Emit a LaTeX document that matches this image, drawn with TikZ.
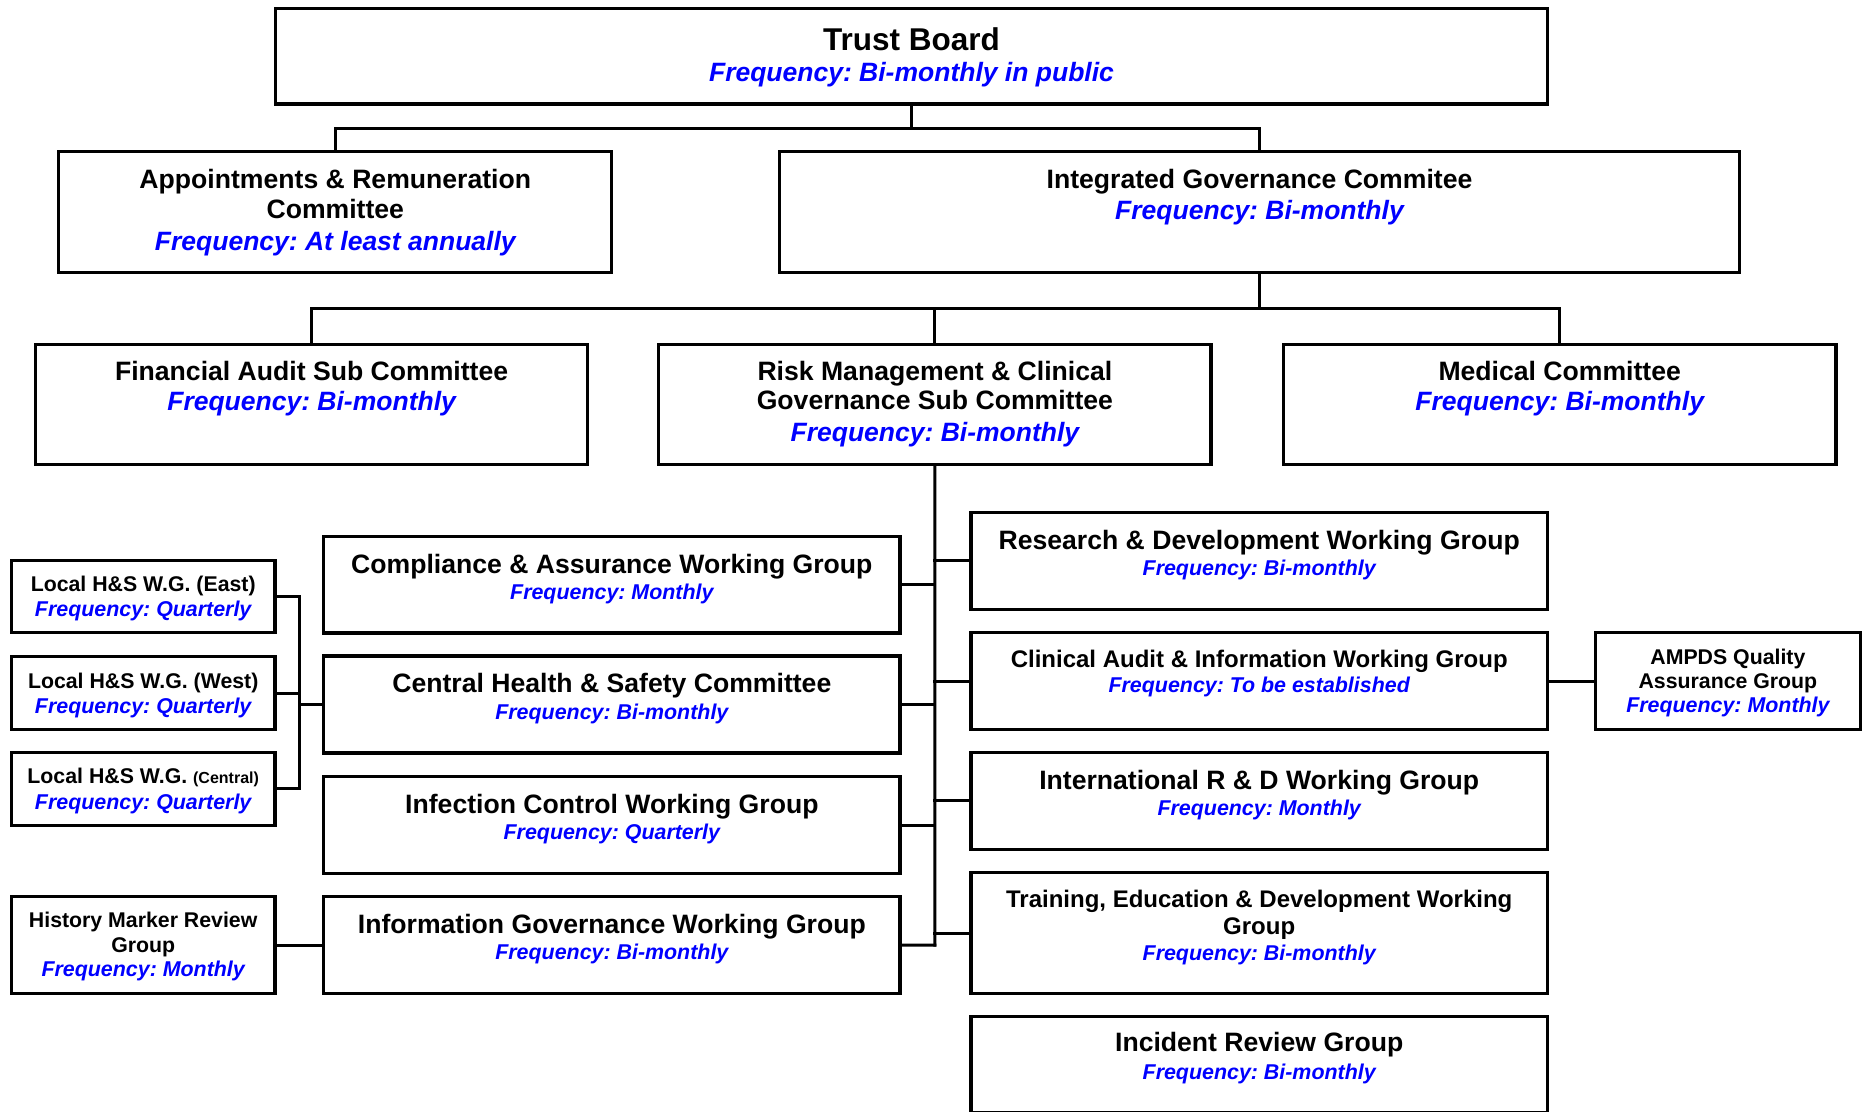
\documentclass[tikz,border=0pt]{standalone}
\usepackage{fontspec}
\setmainfont{Liberation Sans}
\usetikzlibrary{calc}
\frenchspacing
\definecolor{freqblue}{RGB}{0,0,255}
\tikzset{
  orgbox/.style={draw=black, line width=3.3pt, inner sep=0pt, fill=white},
  conn/.style={draw=black, line width=3pt, line cap=rect},
  tT/.style={anchor=base, inner sep=0pt, font=\fontsize{31.5}{34}\selectfont\bfseries},
  tA/.style={anchor=base, inner sep=0pt, font=\fontsize{26.6}{30}\selectfont\bfseries},
  tC/.style={anchor=base, inner sep=0pt, font=\fontsize{24}{27}\selectfont\bfseries},
  tS/.style={anchor=base, inner sep=0pt, font=\fontsize{21.3}{24}\selectfont\bfseries},
  fA/.style={anchor=base, inner sep=0pt, text=freqblue, font=\fontsize{26.5}{30}\selectfont\bfseries\itshape},
  fB/.style={anchor=base, inner sep=0pt, text=freqblue, font=\fontsize{21.4}{24}\selectfont\bfseries\itshape},
}
\newcommand\orgrect[5]{\node[orgbox, minimum width={#4-#2}, minimum height={#5-#3}] (#1) at ({(#2+#4)/2},{(#3+#5)/2}) {};}
\begin{document}
\begin{tikzpicture}[x=1pt,y=-1pt]
\useasboundingbox (0,0) rectangle (1863,1111);
\fill[white] (0,0) rectangle (1863,1111);

% ---------- boxes ----------
\orgrect{tb}{275.5}{8.7}{1547.5}{104}
\orgrect{ar}{58.8}{151.3}{611.8}{272.8}
\orgrect{ig}{779.4}{151.3}{1739.6}{272.8}
\orgrect{fa}{35.7}{344.5}{587.4}{464.7}
\orgrect{rm}{658.7}{344.5}{1211}{464.7}
\orgrect{mc}{1283.5}{344.5}{1835.9}{464.7}

\orgrect{cp}{323.7}{536.5}{900}{633}
\orgrect{ch}{323.7}{656}{900}{753}
\orgrect{ic}{323.7}{776.8}{900}{873.4}
\orgrect{gw}{323.7}{896.7}{900}{993.5}

\orgrect{rd}{971}{512.3}{1547.3}{609.4}
\orgrect{ca}{971}{632.7}{1547.3}{729.3}
\orgrect{ir}{971}{752.2}{1547.3}{849.2}
\orgrect{tr}{971}{872.5}{1547.3}{993.5}
\orgrect{inc}{971}{1016.5}{1547.3}{1113}

\orgrect{le}{11.3}{560.7}{275}{632.4}
\orgrect{lw}{11.3}{656.5}{275}{729.7}
\orgrect{lc}{11.3}{752.2}{275}{825.5}
\orgrect{hm}{11.3}{896.7}{275}{993.5}
\orgrect{am}{1595.3}{632.7}{1860.5}{729.3}

% ---------- connectors ----------
\coordinate (b1) at (911.5,128.7);
\coordinate (b2) at (1259.5,308.4);
\coordinate (sp) at (934.9,945.1);
\coordinate (bx) at (299,704.5);

\draw[conn] (tb.south) -- (b1);
\draw[conn] (ar.north) |- (b1) -| (ig.north);
\draw[conn] (ig.south) -- (b2);
\draw[conn] (fa.north) |- (b2) -| (mc.north);
\draw[conn] (rm.north) -- (rm.north |- b2);
\draw[conn] (rm.south) -- (sp);

\draw[conn] (cp.east) -- (cp.east -| sp);
\draw[conn] (ch.east) -- (ch.east -| sp);
\draw[conn] (ic.east) -- (ic.east -| sp);
\draw[conn] (gw.east) -- (sp);

\draw[conn] (rd.west) -- (rd.west -| sp);
\draw[conn] (ca.west) -- (ca.west -| sp);
\draw[conn] (ir.west) -- (ir.west -| sp);
\draw[conn] (tr.west) -- (tr.west -| sp);

\draw[conn] (ca.east) -- (am.west);
\draw[conn] (hm.east) -- (gw.west);

\draw[conn] (le.east) -- (le.east -| bx) -- (lc.east -| bx) -- (lc.east);
\draw[conn] (lw.east) -- (lw.east -| bx);
\draw[conn] (ch.west) -- (bx);

% ---------- texts ----------
\node[tT] (tb1) at (911.5,50) {Trust Board};
\node[fA] (tb2) at (911.5,81) {Frequency: Bi-monthly in public};

\node[tA] (ar1) at (335.3,188.7) {Appointments \& Remuneration};
\node[tA] (ar2) at (335.3,218.3) {Committee};
\node[fA] (ar3) at (335.3,250) {Frequency: At least annually};

\node[tA] (ig1) at (1259.5,188.7) {Integrated Governance Commitee};
\node[fA] (ig2) at (1259.5,219) {Frequency: Bi-monthly};

\node[tA] (fa1) at (311.6,380) {Financial Audit Sub Committee};
\node[fA] (fa2) at (311.6,410.5) {Frequency: Bi-monthly};

\node[tA] (rm1) at (934.9,380) {Risk Management \& Clinical};
\node[tA] (rm2) at (934.9,409.5) {Governance Sub Committee};
\node[fA] (rm3) at (934.9,441.5) {Frequency: Bi-monthly};

\node[tA] (mc1) at (1559.7,380) {Medical Committee};
\node[fA] (mc2) at (1559.7,410.5) {Frequency: Bi-monthly};

\node[tA] (cp1) at (611.85,573.4) {Compliance \& Assurance Working Group};
\node[fB] (cp2) at (611.85,599.5) {Frequency: Monthly};
\node[tA] (ch1) at (611.85,692.9) {Central Health \& Safety Committee};
\node[fB] (ch2) at (611.85,719.8) {Frequency: Bi-monthly};
\node[tA] (ic1) at (611.85,813.2) {Infection Control Working Group};
\node[fB] (ic2) at (611.85,839.4) {Frequency: Quarterly};
\node[tA] (gw1) at (611.85,933.5) {Information Governance Working Group};
\node[fB] (gw2) at (611.85,959.3) {Frequency: Bi-monthly};

\node[tA] (rd1) at (1259.2,549.2) {Research \& Development Working Group};
\node[fB] (rd2) at (1259.2,575.4) {Frequency: Bi-monthly};
\node[tC] (ca1) at (1259.2,667.1) {Clinical Audit \& Information Working Group};
\node[fB] (ca2) at (1259.2,692.1) {Frequency: To be established};
\node[tA] (ir1) at (1259.2,789.9) {International R \& D Working Group};
\node[fB] (ir2) at (1259.2,815.2) {Frequency: Monthly};
\node[tC] (tr1) at (1259.2,907.4) {Training, Education \& Development Working};
\node[tC] (tr2) at (1259.2,934.7) {Group};
\node[fB] (tr3) at (1259.2,960.1) {Frequency: Bi-monthly};
\node[tA] (inc1) at (1259.2,1051.4) {Incident Review Group};
\node[fB] (inc2) at (1259.2,1079.6) {Frequency: Bi-monthly};

\node[tS] (le1) at (143.2,591.9) {Local H\&S W.G. (East)};
\node[fB] (le2) at (143.2,616.8) {Frequency: Quarterly};
\node[tS] (lw1) at (143.2,688) {Local H\&S W.G. (West)};
\node[fB] (lw2) at (143.2,713.4) {Frequency: Quarterly};
\node[tS] (lc1) at (143.2,783.8) {Local H\&S W.G. {\fontsize{16}{18}\selectfont(Central)}};
\node[fB] (lc2) at (143.2,809.2) {Frequency: Quarterly};
\node[tS] (hm1) at (143.2,927.9) {History Marker Review};
\node[tS] (hm2) at (143.2,952) {Group};
\node[fB] (hm3) at (143.2,976.2) {Frequency: Monthly};

\node[tS] (am1) at (1727.9,664.3) {AMPDS Quality};
\node[tS] (am2) at (1727.9,688) {Assurance Group};
\node[fB] (am3) at (1727.9,712.2) {Frequency: Monthly};
\end{tikzpicture}
\end{document}
